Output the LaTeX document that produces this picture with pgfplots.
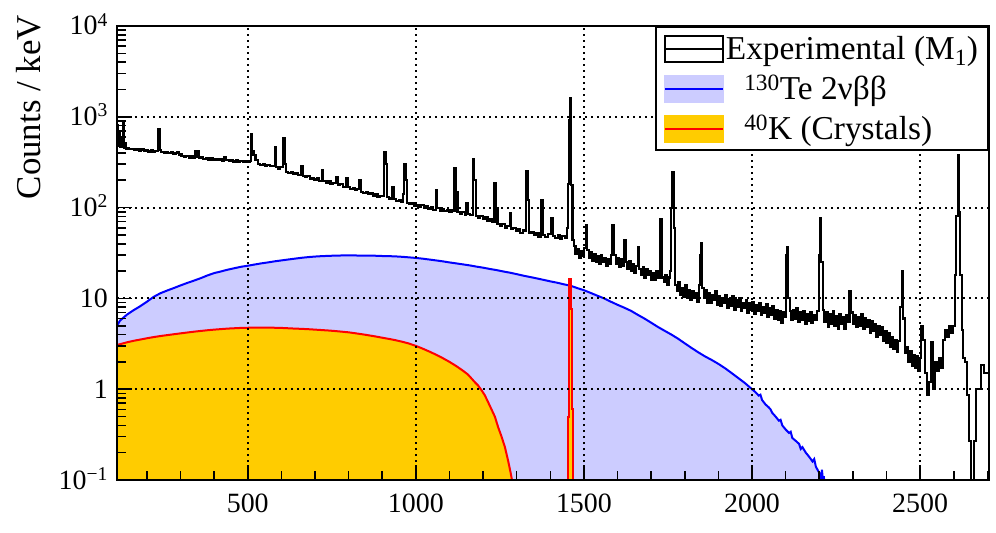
\documentclass[border=0pt]{standalone}
\usepackage{fontspec}
\setmainfont{Liberation Serif}
\usepackage{pgfplots}
\pgfplotsset{compat=1.18}
\definecolor{lav}{RGB}{204,204,255}
\definecolor{kor}{RGB}{255,204,0}
\begin{document}
\begin{tikzpicture}
\useasboundingbox (-117bp,-53bp) rectangle (879bp,480bp);
\begin{axis}[
  scale only axis, width=872bp, height=454bp,
  xmin=111, xmax=2705, ymode=log, ymin=0.1, ymax=10000,
  log origin=infty,
  axis on top,
  tick pos=left, tick align=inside,
  /pgf/number format/assume math mode=true,
  xtick={500,1000,1500,2000,2500},
  xticklabels={500,1000,1500,2000,2500},
  minor xtick={200,300,...,2700},
  ytick={0.1,1,10,100,1000,10000},
  yticklabels={10\textsuperscript{−1},1,10,10\textsuperscript{2},10\textsuperscript{3},10\textsuperscript{4}},
  minor ytick={0.2,0.3,0.4,0.5,0.6,0.7,0.8,0.9,2,3,4,5,6,7,8,9,20,30,40,50,60,70,80,90,200,300,400,500,600,700,800,900,2000,3000,4000,5000,6000,7000,8000,9000},
  major tick length=15bp, minor tick length=9bp,
  every tick/.style={black, line width=1.6bp},
  axis line style={line width=2.2bp},
  grid=major,
  major grid style={black, line width=1.9bp, dash pattern=on 2.2bp off 3.8bp},
  ticklabel style={font=\fontsize{28}{32}\selectfont},
  xticklabel style={anchor=north, inner sep=0pt, yshift=-14bp},
  yticklabel style={anchor=base east, inner sep=0pt, xshift=-9bp, yshift=-9bp},
  ylabel={Counts / keV},
  ylabel style={font=\fontsize{35}{40}\selectfont, rotate=0, at={(axis description cs:-0.0872,1.0242)}, anchor=base east, inner sep=0pt},
  legend style={at={(rel axis cs:1,1)}, anchor=north east, draw=black, line width=1.8bp, fill=white,
    font=\fontsize{33.5}{40}\selectfont, inner xsep=8bp, inner ysep=7bp, row sep=10bp,
    nodes={inner xsep=2bp}},
  legend cell align=left,
]
\addlegendimage{legend image code/.code={\draw[black,line width=1.8bp,fill=white] (0bp,-14bp) rectangle (58bp,12bp); \draw[black,line width=1.8bp] (0bp,-1bp)--(58bp,-1bp);}}
\addlegendentry{Experimental (M\textsubscript{1})\hspace{-9bp}}
\addlegendimage{legend image code/.code={\fill[lav] (0bp,-14bp) rectangle (58bp,12bp); \draw[blue,line width=2bp] (0bp,-1bp)--(58bp,-1bp);}}
\addlegendentry{\hspace{0.55em}\textsuperscript{130}Te 2νββ}
\addlegendimage{legend image code/.code={\fill[kor] (0bp,-14bp) rectangle (58bp,12bp); \draw[red,line width=2bp] (0bp,-1bp)--(58bp,-1bp);}}
\addlegendentry{\hspace{0.55em}\textsuperscript{40}K (Crystals)}

% 130Te 2nu bb
\addplot[sharp plot, draw=blue, line width=2bp, fill=lav, forget plot] coordinates {
(111,5.0) (120,5.7) (140,6.6) (160,7.4) (180,8.2) (200,9.2) (220,10.4) (240,11.4) (260,12.2) (280,13.0)
(300,13.9) (320,14.8) (340,15.7) (360,16.7) (380,17.9) (400,19.0) (420,19.8) (440,20.7) (460,21.5) (480,22.3)
(500,22.9) (520,23.6) (540,24.3) (560,24.9) (580,25.6) (600,26.2) (620,26.8) (640,27.4) (660,28.0) (680,28.5)
(700,28.9) (720,29.2) (740,29.4) (760,29.6) (780,29.7) (800,29.7) (820,29.7) (840,29.6) (860,29.5) (880,29.5)
(900,29.3) (920,29.2) (940,29.0) (960,28.7) (980,28.3) (1000,27.9) (1020,27.4) (1040,26.8) (1060,26.2) (1080,25.6)
(1100,24.9) (1120,24.3) (1140,23.7) (1160,23.1) (1180,22.4) (1200,21.8) (1220,21.1) (1240,20.5) (1260,19.8) (1280,19.2)
(1300,18.5) (1320,17.8) (1340,17.2) (1360,16.6) (1380,16.0) (1400,15.4) (1420,14.9) (1440,14.3) (1460,13.8) (1480,13.0)
(1500,12.3) (1520,11.5) (1540,10.7) (1560,10.0) (1580,9.2) (1600,8.5) (1620,7.9) (1640,7.3) (1660,6.6) (1680,6.0)
(1700,5.4) (1720,4.85) (1740,4.4) (1760,4.0) (1780,3.6) (1800,3.2) (1820,2.85) (1840,2.55) (1860,2.3) (1880,2.1)
(1900,1.9) (1920,1.7) (1940,1.5) (1960,1.32) (1980,1.16) (2000,1.0) (2010,0.93) (2020,0.85) (2025,0.87) (2030,0.76)
(2040,0.68) (2050,0.63) (2055,0.60) (2060,0.55) (2070,0.50) (2080,0.45) (2085,0.46) (2090,0.40) (2100,0.36) (2110,0.33)
(2115,0.34) (2120,0.29) (2130,0.27) (2140,0.25) (2145,0.22) (2150,0.23) (2160,0.20) (2170,0.18) (2180,0.16) (2185,0.17)
(2190,0.14) (2200,0.12) (2205,0.10) (2208,0.13) (2212,0.09) (2214,0.11) (2216,0.05) (2218,0.01)
} \closedcycle;

% 40K crystals: continuum
\addplot[sharp plot, draw=red, line width=2bp, fill=kor, forget plot] coordinates {
(111,3.07) (120,3.13) (140,3.28) (160,3.41) (180,3.52) (200,3.64) (220,3.75) (240,3.85) (260,3.94) (280,4.03)
(300,4.12) (320,4.21) (340,4.30) (360,4.38) (380,4.46) (400,4.53) (420,4.59) (440,4.65) (460,4.69) (480,4.73)
(500,4.75) (520,4.77) (540,4.77) (560,4.77) (580,4.75) (600,4.73) (620,4.69) (640,4.65) (660,4.62) (680,4.58)
(700,4.53) (720,4.48) (740,4.43) (760,4.37) (780,4.30) (800,4.23) (820,4.13) (840,4.03) (860,3.92) (880,3.81)
(900,3.69) (920,3.58) (940,3.46) (960,3.33) (980,3.18) (1000,3.0) (1020,2.8) (1040,2.6) (1060,2.4) (1080,2.2)
(1100,2.0) (1120,1.8) (1140,1.6) (1155,1.45) (1165,1.32) (1175,1.2) (1185,1.1) (1195,0.98) (1205,0.86) (1215,0.72)
(1225,0.60) (1235,0.50) (1245,0.38) (1255,0.30) (1265,0.23) (1275,0.16) (1282,0.12) (1286,0.10) (1288,0.07) (1289,0.01)
} \closedcycle;
% 40K crystals: 1461 keV line
\addplot[const plot mark left, draw=red, line width=2bp, fill=kor, forget plot] coordinates {
(1450,0.01) (1453,0.5) (1455,5.1) (1457,16.5) (1461,7.6) (1464,0.6) (1467,0.01) (1470,0.01)
} \closedcycle;

% Experimental
\addplot[const plot mark left, black, line width=2.1bp, forget plot] coordinates {
(111,820) (114,480) (117,700) (120,470) (123,600) (126,460) (129,880) (132,450) (135,520) (138,445)
(141,452) (148,438) (155,447) (162,430) (169,441) (176,425) (183,436) (190,420) (197,432) (204,415)
(211,426) (218,412) (225,420) (234,740) (239,428) (243,410) (250,402) (257,412) (264,396) (271,405)
(278,390) (285,398) (291,412) (296,384) (303,372) (310,365) (317,374) (324,356) (331,366) (338,352)
(342,420) (346,358) (350,418) (354,350) (361,358) (368,342) (375,352) (382,338) (389,348) (396,335)
(403,345) (410,332) (417,341) (424,330) (430,356) (436,333) (443,325) (450,334) (457,322) (464,331)
(471,320) (478,328) (485,318) (492,326) (499,315) (506,328) (509,646) (513,420) (517,380) (523,335)
(530,300) (537,292) (544,302) (551,288) (558,296) (565,284) (572,290) (580,465) (584,282) (590,268)
(597,280) (605,583) (610,300) (614,248) (621,240) (628,246) (635,232) (642,240) (649,226) (658,285)
(663,224) (670,216) (677,222) (684,208) (691,214) (698,204) (705,210) (712,198) (720,260) (725,196)
(732,188) (739,194) (746,182) (753,188) (763,215) (768,176) (775,182) (782,170) (793,210) (798,168)
(805,162) (812,166) (819,156) (826,160) (832,200) (837,150) (844,146) (851,150) (858,141) (865,145)
(872,136) (879,140) (886,131) (893,134) (905,410) (910,300) (914,130) (921,126) (930,169) (935,124)
(942,118) (949,122) (956,115) (963,140) (966,302) (970,200) (974,112) (981,110) (988,113) (995,105)
(1002,108) (1009,102) (1016,106) (1023,99) (1030,103) (1037,97) (1044,101) (1051,95) (1060,156) (1064,98)
(1071,93) (1078,97) (1085,91) (1092,95) (1099,89) (1106,93) (1115,273) (1120,150) (1124,90) (1131,86)
(1138,90) (1145,84) (1150,112) (1155,85) (1162,82) (1170,343) (1174,200) (1178,80) (1185,77) (1192,81)
(1199,75) (1206,78) (1213,72) (1220,75) (1227,69) (1234,186) (1239,100) (1243,66) (1250,63) (1257,66)
(1264,60) (1271,63) (1279,87) (1283,58) (1290,60) (1297,55) (1304,58) (1311,53) (1318,56) (1329,253)
(1333,120) (1337,52) (1344,54) (1351,50) (1358,53) (1365,48) (1373,121) (1378,50) (1385,47) (1392,51)
(1403,77) (1408,49) (1415,46) (1422,50) (1429,45) (1436,49) (1443,46) (1450,60) (1453,180) (1456,922)
(1459,1610) (1462,177) (1466,44) (1470,38) (1475,31) (1480,35) (1485,28) (1490,33) (1495,29) (1500,36)
(1505,64) (1510,34) (1515,28) (1520,32) (1525,26) (1530,31) (1535,25) (1540,29) (1545,24) (1550,30)
(1555,25) (1560,28) (1565,23) (1570,27) (1575,24) (1580,30) (1585,64) (1590,30) (1595,24) (1600,28)
(1605,22) (1610,27) (1615,23) (1619,44) (1624,25) (1629,21) (1634,26) (1639,20) (1644,24) (1649,19)
(1654,23) (1660,37) (1665,21) (1670,18) (1675,22) (1680,17) (1685,21) (1690,18) (1695,20) (1700,16)
(1705,19) (1710,16) (1715,20) (1720,17) (1727,75) (1732,17) (1737,15) (1742,18) (1747,14) (1752,17)
(1756,20) (1760,100) (1763,247) (1767,60) (1771,14) (1776,12) (1781,15) (1786,11) (1791,13) (1796,10.5)
(1801,14) (1806,10) (1811,12.5) (1816,9.5) (1821,12) (1826,10) (1831,11.5) (1836,9.2) (1841,14) (1844,30)
(1847,41) (1851,13) (1856,10) (1861,12.5) (1866,9) (1871,11.5) (1876,8.8) (1881,11) (1886,9.5) (1891,12)
(1896,8.5) (1901,10.5) (1906,8.2) (1911,10) (1916,8.8) (1921,11) (1926,7.8) (1931,9.8) (1936,8.2) (1941,10.5)
(1946,7.5) (1951,9.5) (1956,8) (1961,10) (1966,7.2) (1971,9) (1976,7.8) (1981,9.5) (1986,7) (1991,8.8)
(1996,7.4) (2001,9.2) (2006,6.8) (2011,8.5) (2016,7.2) (2021,9) (2026,6.5) (2031,8) (2036,6.9) (2041,8.6)
(2046,6.2) (2051,7.8) (2056,6.6) (2061,8.2) (2066,6) (2071,7.5) (2076,5.8) (2081,7.2) (2086,5.4) (2091,7)
(2096,6.2) (2100,30) (2104,37) (2108,10) (2112,7.2) (2117,5.8) (2122,7.5) (2127,6) (2132,7.8) (2137,5.5)
(2142,7) (2147,5.8) (2152,7.2) (2157,5.2) (2162,6.8) (2167,5.6) (2172,7) (2177,5.4) (2182,6.6) (2187,5.8)
(2192,7.2) (2198,30) (2202,77) (2206,25) (2210,7.5) (2215,5.5) (2220,7) (2225,4.8) (2230,6.8) (2235,5.2)
(2240,7.2) (2245,5) (2250,6.4) (2255,4.6) (2260,6.8) (2265,5.2) (2270,6.2) (2275,4.6) (2280,6.5) (2285,5.5)
(2290,12) (2295,7) (2300,5.2) (2305,6.5) (2310,4.8) (2315,6.2) (2320,5) (2325,6.8) (2330,4.6) (2335,6)
(2340,4.8) (2345,5.8) (2350,4.2) (2355,5.6) (2360,4.4) (2365,5.2) (2370,3.8) (2375,5) (2380,4) (2385,4.8)
(2390,3.4) (2395,4.4) (2400,3.2) (2405,4.2) (2410,2.9) (2415,3.8) (2420,2.8) (2425,3.5) (2430,2.6) (2435,3.4)
(2440,8) (2445,20) (2450,6) (2455,2.5) (2460,2.9) (2465,2) (2470,2.6) (2475,1.8) (2480,2.4) (2485,1.7)
(2490,2.3) (2495,1.6) (2500,2.2) (2503,5) (2508,3.5) (2514,1.5) (2520,0.86) (2526,1.2) (2532,3.3) (2538,1.0)
(2544,2.0) (2550,1.6) (2556,2.2) (2562,1.7) (2568,3.5) (2574,4.5) (2580,3.8) (2586,5) (2592,4.2) (2598,5)
(2604,18) (2608,80) (2612,375) (2616,90) (2620,18) (2624,4.5) (2628,2.2) (2634,2.0) (2640,0.86) (2646,0.27)
(2652,0.05) (2660,0.27) (2666,1.0) (2674,1.0) (2680,1.85) (2690,1.5) (2705,1.5)
};
\end{axis}
\end{tikzpicture}
\end{document}
